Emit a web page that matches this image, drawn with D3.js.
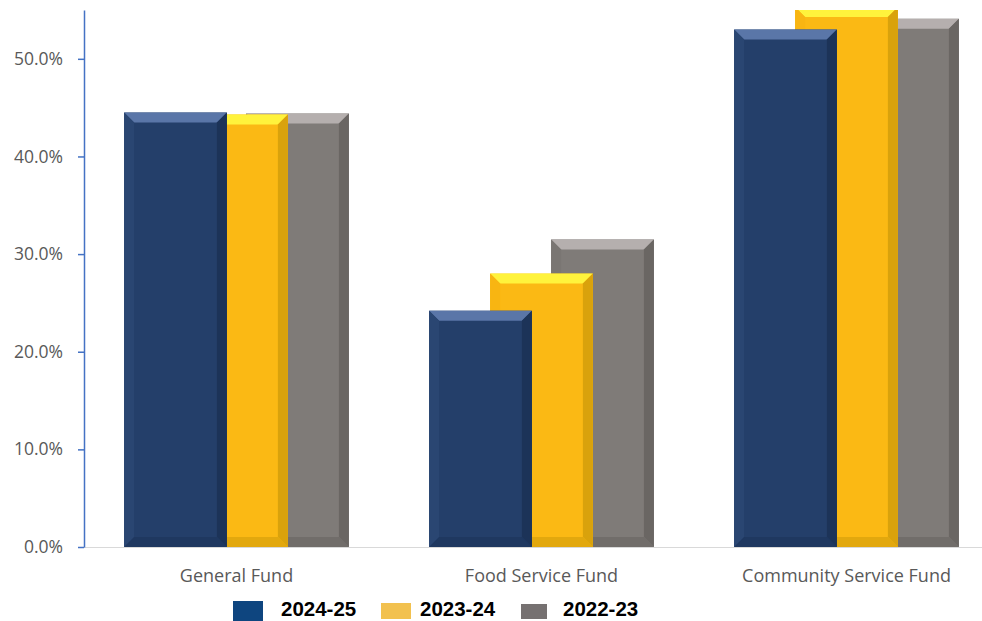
<!DOCTYPE html>
<html>
<head>
<meta charset="utf-8">
<script src="https://cdn.jsdelivr.net/npm/d3@7"></script>
<style>
  body { margin: 0; background: #fff; }
  .tick text { font-family: "Open Sans", sans-serif; font-size: 17.5px; fill: #595959; }
  .cat { font-family: "Open Sans", sans-serif; font-size: 18px; fill: #595959; }
  .legend text { font-family: "Liberation Sans", Arial, sans-serif; font-size: 20.5px; font-weight: bold; fill: #000; }
</style>
</head>
<body>
<script>
var w = 982;
var h = 621;

var categories = ["General Fund", "Food Service Fund", "Community Service Fund"];
var years = ["2024-25", "2023-24", "2022-23"];
var values2024 = [44.5, 24.2, 53.0];
var values2023 = [44.3, 28.0, 55.3];
var values2022 = [44.4, 31.5, 54.1];
var yTicks = [0, 10, 20, 30, 40, 50];

// bar colours: main face, top bevel, right bevel, left bevel, bottom bevel
var palette = [
  { main: "#243f6a", top: "#5a76a8", right: "#1c3358", left: "#2a4672", bottom: "#1f3860", legend: "#0e457f" },
  { main: "#fbb914", top: "#fff33c", right: "#d9a20c", left: "#f8b512", bottom: "#e2a80e", legend: "#f2c14f" },
  { main: "#7f7b78", top: "#b5afae", right: "#6a6663", left: "#7a7673", bottom: "#716d6a", legend: "#767171" }
];

var series = [values2024, values2023, values2022];

var svg = d3.select("body").append("svg")
  .attr("width", w)
  .attr("height", h);

var plot = { left: 84, right: 999, top: 10, bottom: 547 };

var x = d3.scaleBand()
  .domain(categories)
  .range([plot.left, plot.right]);

var y = d3.scaleLinear()
  .domain([0, 55])
  .range([plot.bottom, plot.top]);

var barWidth = x.bandwidth() * 0.337;
var barStep = x.bandwidth() * 0.2;
var bevel = 10;

svg.append("clipPath")
  .attr("id", "plotClip")
  .append("rect")
  .attr("x", plot.left)
  .attr("y", plot.top)
  .attr("width", plot.right - plot.left)
  .attr("height", plot.bottom - plot.top);

// x axis baseline
svg.append("line")
  .attr("x1", plot.left)
  .attr("x2", w)
  .attr("y1", y(0) + 0.5)
  .attr("y2", y(0) + 0.5)
  .style("stroke", "#d9d9d9")
  .style("stroke-width", 1);

/**
 * Draws one bevelled bar.
 */
function drawBar(g, x0, y0, bw, bh, c) {
  var b = Math.min(bevel, bw / 2, bh / 2);
  var x1 = x0 + bw, y1 = y0 + bh;
  g.append("rect")
    .attr("x", x0).attr("y", y0)
    .attr("width", bw).attr("height", bh)
    .style("fill", c.main);
  var pts = function (arr) { return arr.map(p => p.join(",")).join(" "); };
  g.append("polygon")
    .attr("points", pts([[x0, y0], [x1, y0], [x1 - b, y0 + b], [x0 + b, y0 + b]]))
    .style("fill", c.top);
  g.append("polygon")
    .attr("points", pts([[x1, y0], [x1, y1], [x1 - b, y1 - b], [x1 - b, y0 + b]]))
    .style("fill", c.right);
  g.append("polygon")
    .attr("points", pts([[x0, y0], [x0 + b, y0 + b], [x0 + b, y1 - b], [x0, y1]]))
    .style("fill", c.left);
  g.append("polygon")
    .attr("points", pts([[x0, y1], [x0 + b, y1 - b], [x1 - b, y1 - b], [x1, y1]]))
    .style("fill", c.bottom);
}

var bars = svg.append("g")
  .attr("id", "bars")
  .attr("clip-path", "url(#plotClip)");

// draw back-to-front: 2022-23, 2023-24, 2024-25
for (var s = series.length - 1; s >= 0; s--) {
  series[s].forEach(function (v, i) {
    var cx = x(categories[i]) + x.bandwidth() / 2 + (s - 1) * barStep;
    drawBar(bars.append("g"), cx - barWidth / 2, y(v), barWidth, y(0) - y(v), palette[s]);
  });
}

// y axis
var yAxis = svg.append("g")
  .attr("transform", "translate(" + [plot.left, 0] + ")")
  .call(d3.axisLeft(y)
    .tickValues(yTicks)
    .tickSize(6)
    .tickSizeOuter(0)
    .tickPadding(15)
    .tickFormat(d => d.toFixed(1) + "%"));

yAxis.select(".domain").style("stroke", "#4472c4").style("stroke-width", 1.5);
yAxis.selectAll(".tick line").style("stroke", "#4472c4").style("stroke-width", 1.5);
yAxis.selectAll(".tick text").attr("font-family", null).attr("font-size", null);

// category labels
svg.append("g").selectAll("text")
  .data(categories)
  .enter().append("text")
  .attr("class", "cat")
  .attr("x", d => x(d) + x.bandwidth() / 2)
  .attr("y", 582)
  .attr("text-anchor", "middle")
  .text(d => d);

// legend
var legendX = [233, 381, 521];
var legendTextX = [281, 420, 563];
var swatch = [[30, 20, 601], [30, 16, 603], [26, 15, 604]];
var legend = svg.append("g").attr("class", "legend");
var items = legend.selectAll("g")
  .data(years)
  .enter().append("g");

items.append("rect")
  .attr("x", (d, i) => legendX[i])
  .attr("y", (d, i) => swatch[i][2])
  .attr("width", (d, i) => swatch[i][0])
  .attr("height", (d, i) => swatch[i][1])
  .style("fill", (d, i) => palette[i].legend);

items.append("text")
  .attr("x", (d, i) => legendTextX[i])
  .attr("y", 616)
  .text(d => d);
</script>
</body>
</html>
